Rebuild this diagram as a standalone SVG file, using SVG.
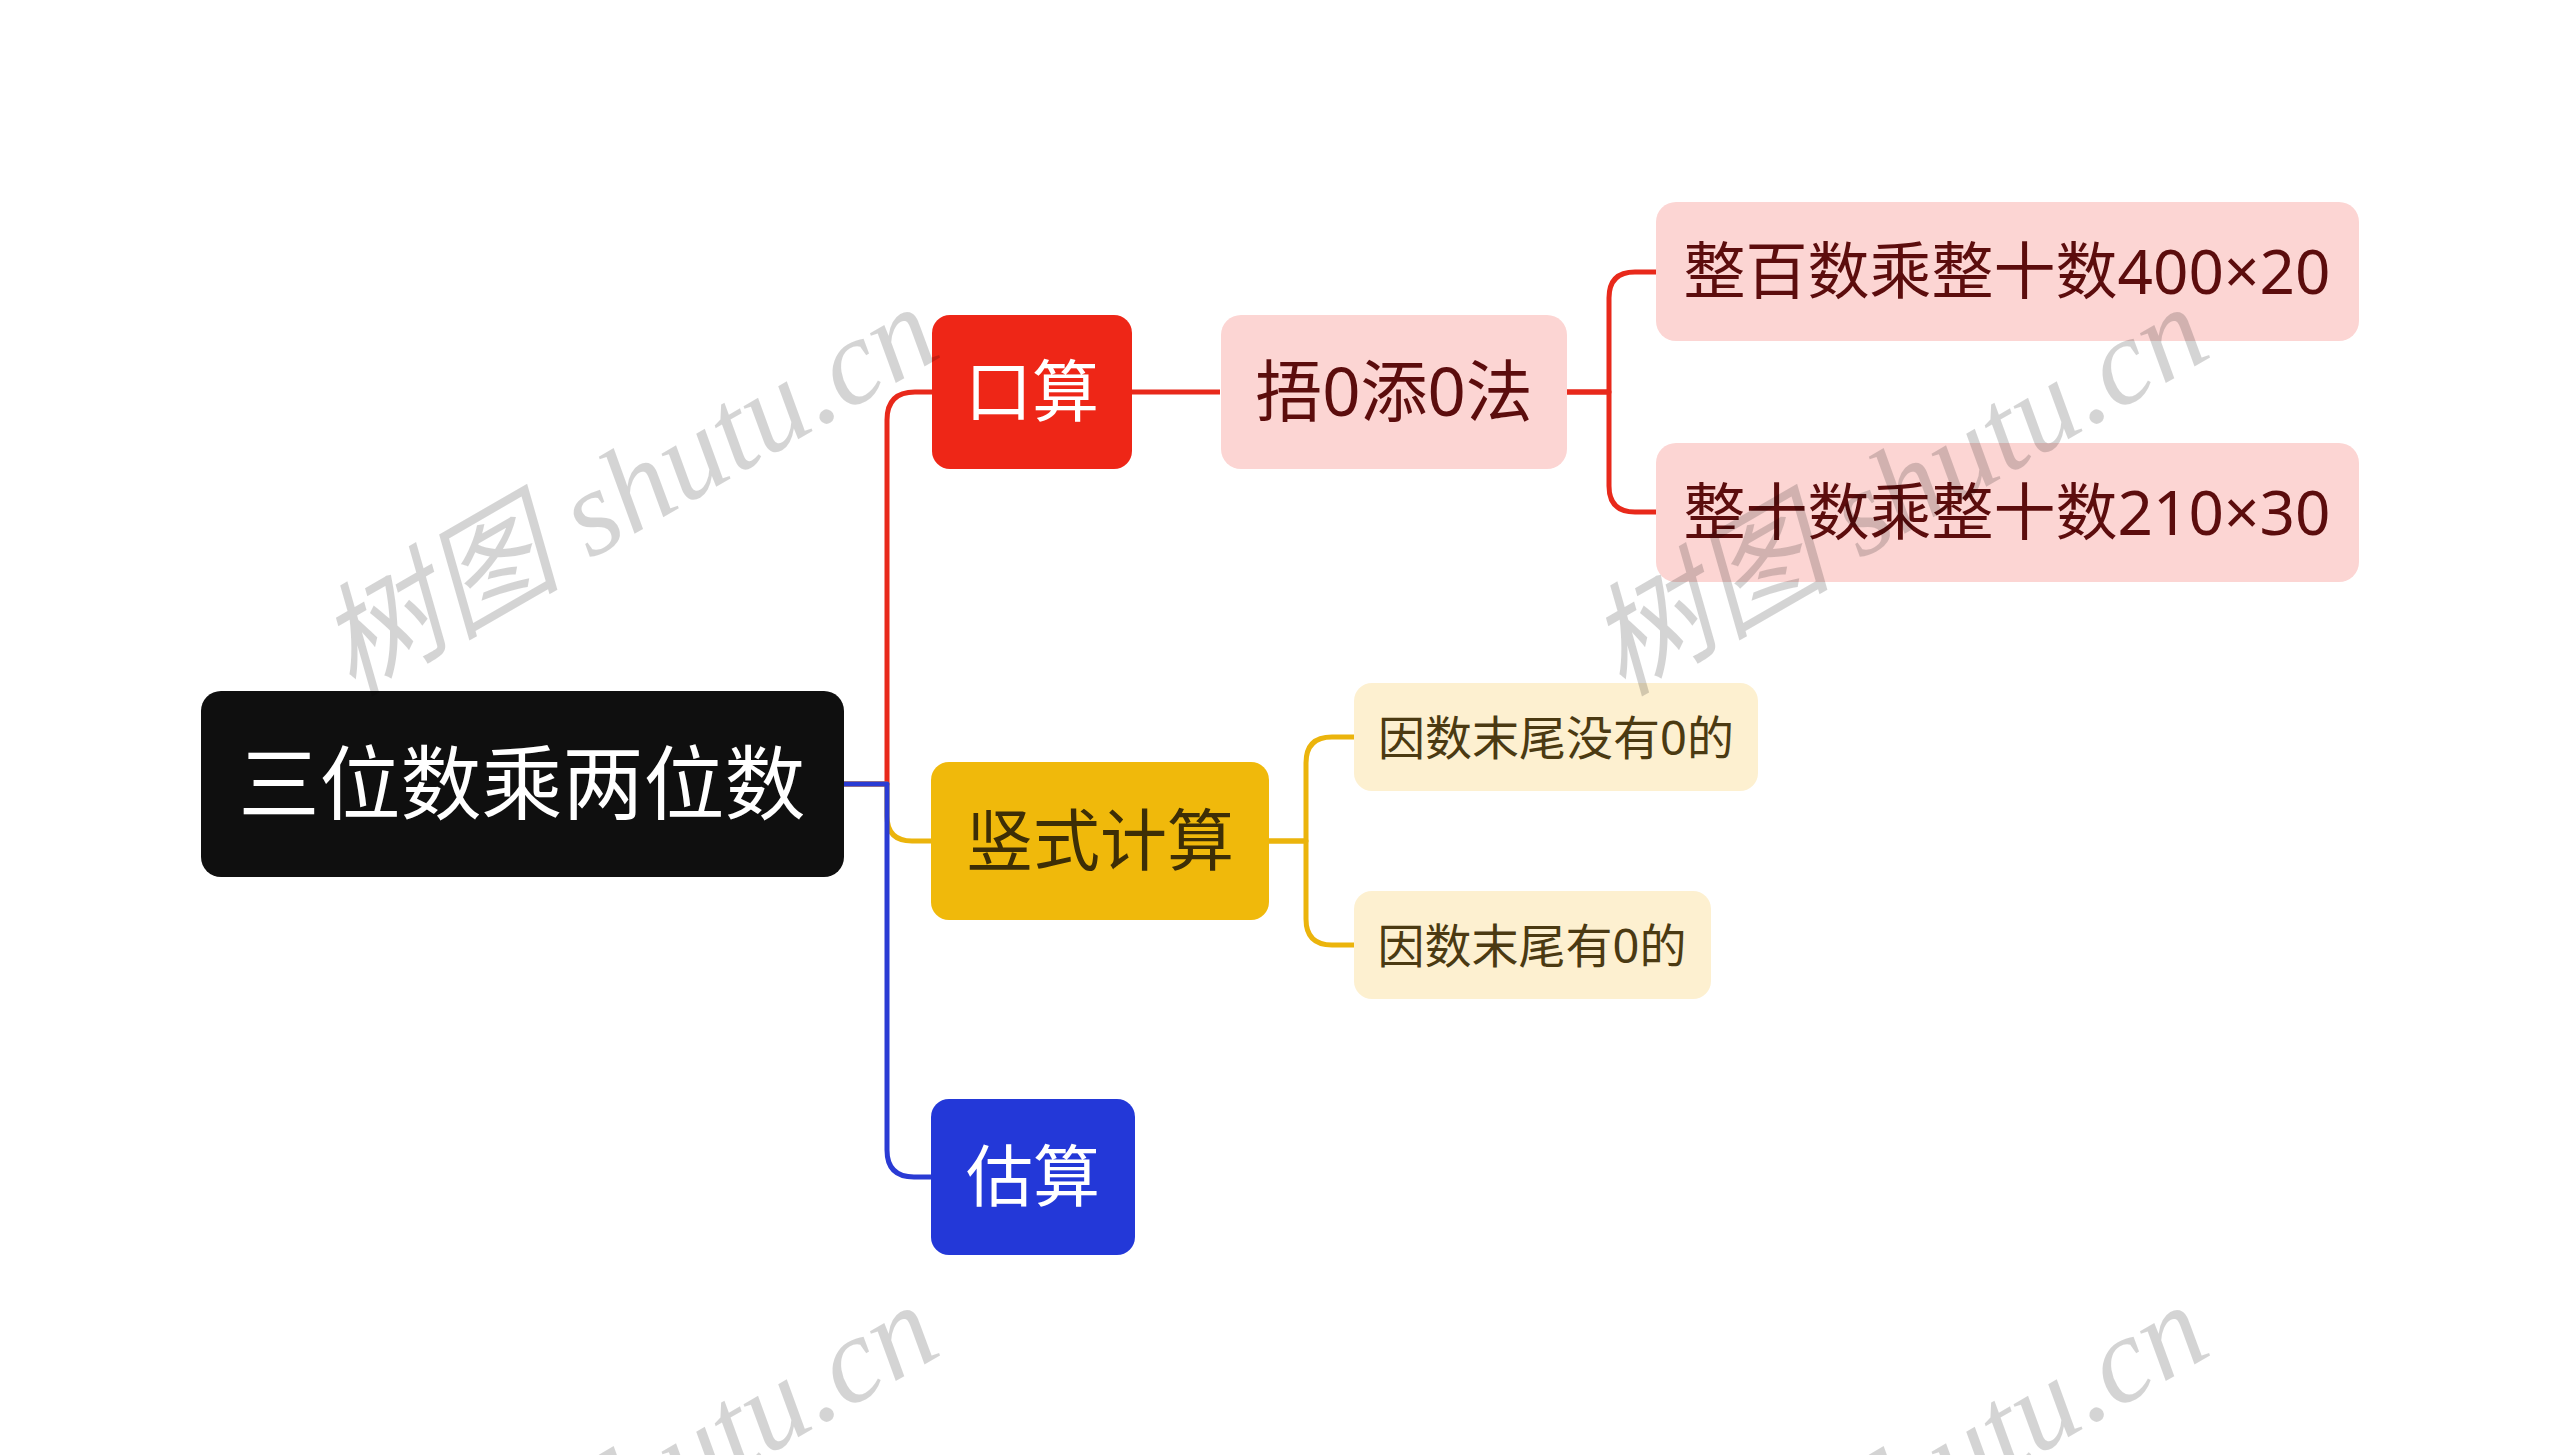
<svg xmlns="http://www.w3.org/2000/svg" width="2560" height="1455" viewBox="0 0 2560 1455">
<style>
.t{font-family:"Noto Sans","Noto Sans CJK SC",sans-serif;text-anchor:middle}
.ln{fill:none;stroke-width:5;stroke-linejoin:round}
.wm{font-family:"Liberation Serif","Noto Sans CJK SC",serif;font-style:italic;font-size:122px;fill:#000;fill-opacity:0.17}
</style>
<rect width="2560" height="1455" fill="#ffffff"/>
<g id="connectors">
<path class="ln" stroke="#e8291b" d="M844,784 H887 V420 Q887,392 915,392 H932"/>
<path class="ln" stroke="#ebb40c" d="M844,784 H887 V816 Q887,841 912,841 H931"/>
<path class="ln" stroke="#2a3bd4" d="M844,784 H887 V1150 Q887,1177 914,1177 H931"/>
<path class="ln" stroke="#e8291b" d="M1131,392 H1220"/>
<path class="ln" stroke="#e8291b" d="M1566,392 H1609 V298 Q1609,272 1635,272 H1656"/>
<path class="ln" stroke="#e8291b" d="M1566,392 H1609 V486 Q1609,512 1635,512 H1656"/>
<path class="ln" stroke="#ebb40c" d="M1269,841 H1306 V763 Q1306,737 1332,737 H1354"/>
<path class="ln" stroke="#ebb40c" d="M1269,841 H1306 V919 Q1306,945 1332,945 H1354"/>
</g>
<g id="root">
<rect x="201" y="691" width="643" height="186" rx="20" fill="#0f0f0f"/>
<text class="t" x="522" y="813" font-size="81" fill="#ffffff">三位数乘两位数</text>
</g>
<g id="n-kousuan">
<rect x="932" y="315" width="200" height="154" rx="18" fill="#ee2617"/>
<text class="t" x="1032" y="416" font-size="67" fill="#ffffff">口算</text>
</g>
<g id="n-shushi">
<rect x="931" y="762" width="338" height="158" rx="18" fill="#f0b90b"/>
<text class="t" x="1100" y="865" font-size="67" fill="#3d2e06">竖式计算</text>
</g>
<g id="n-gusuan">
<rect x="931" y="1099" width="204" height="156" rx="18" fill="#2338d8"/>
<text class="t" x="1033" y="1201" font-size="67" fill="#ffffff">估算</text>
</g>
<g id="n-wu">
<rect x="1221" y="315" width="346" height="154" rx="20" fill="#fcd5d3"/>
<text class="t" x="1394" y="416" font-size="67" fill="#5c0d0d">捂0添0法</text>
</g>
<g id="n-zhengbai">
<rect x="1656" y="202" width="703" height="139" rx="20" fill="#fcd5d3"/>
<text class="t" x="2007" y="294" font-size="62" fill="#5c0d0d">整百数乘整十数400×20</text>
</g>
<g id="n-zhengshi">
<rect x="1656" y="443" width="703" height="139" rx="20" fill="#fcd5d3"/>
<text class="t" x="2007" y="535" font-size="62" fill="#5c0d0d">整十数乘整十数210×30</text>
</g>
<g id="n-meiyou">
<rect x="1354" y="683" width="404" height="108" rx="18" fill="#fdf0d0"/>
<text class="t" x="1556" y="755" font-size="47" fill="#4b3a12">因数末尾没有0的</text>
</g>
<g id="n-you">
<rect x="1354" y="891" width="357" height="108" rx="18" fill="#fdf0d0"/>
<text class="t" x="1532" y="963" font-size="47" fill="#4b3a12">因数末尾有0的</text>
</g>
<g id="watermarks">
<text class="wm" transform="translate(352,697) rotate(-30)">树图 shutu.cn</text>
<text class="wm" transform="translate(1622,697) rotate(-30)">树图 shutu.cn</text>
<text class="wm" transform="translate(352,1695) rotate(-30)">树图 shutu.cn</text>
<text class="wm" transform="translate(1622,1695) rotate(-30)">树图 shutu.cn</text>
</g>
</svg>
